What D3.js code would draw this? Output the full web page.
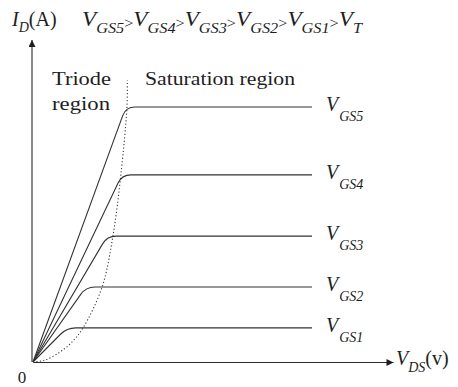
<!DOCTYPE html>
<html>
<head>
<meta charset="utf-8">
<script src="https://cdn.jsdelivr.net/npm/d3@7"></script>
<style>
  html, body { margin: 0; padding: 0; background: #fff; }
  svg { display: block; }
  text { font-family: "Liberation Serif", "Times New Roman", serif; fill: #1e1e1e; }
  .it { font-style: italic; }
</style>
</head>
<body>
<svg id="chart" width="458" height="387"></svg>
<script>
// Output characteristics of an n-channel MOSFET (arbitrary units)
const curveNames = ["GS5", "GS4", "GS3", "GS2", "GS1"];
const satCurrent = [7.92, 5.81, 3.91, 2.33, 1.06];   // I_D in saturation
const kneeVds    = [2.58, 2.47, 2.06, 1.47, 0.94];   // V_DS where triode meets saturation
const vdsEnd = 7.75;

// Triode / saturation boundary (V_DS, I_D)
const boundaryVds = [0, 0.33, 0.75, 1.08, 1.39, 1.92, 2.22, 2.44, 2.61, 2.62];
const boundaryId  = [0, 0.06, 0.31, 0.62, 1.06, 2.33, 3.91, 5.81, 7.92, 8.75];

const svg = d3.select("#chart");
const x = d3.scaleLinear().domain([0, 10]).range([33, 393]);
const y = d3.scaleLinear().domain([0, 10]).range([362, 40]);

const defs = svg.append("defs");
defs.append("marker")
  .attr("id", "arrow")
  .attr("viewBox", "0 0 10 10")
  .attr("refX", 10).attr("refY", 5)
  .attr("markerWidth", 9).attr("markerHeight", 7)
  .attr("markerUnits", "userSpaceOnUse")
  .attr("orient", "auto")
  .append("path").attr("d", "M0,0 L10,5 L0,10 Z").attr("fill", "#1e1e1e");

// axes: plain lines with arrowheads, no ticks
const xAxis = svg.append("g").attr("transform", `translate(0,${y(0)})`)
  .call(d3.axisBottom(x).tickValues([]).tickSizeOuter(0));
const yAxis = svg.append("g").attr("transform", `translate(${x(0) - 1},0)`)
  .call(d3.axisLeft(y).tickValues([]).tickSizeOuter(0));
[xAxis, yAxis].forEach(g => g.select(".domain")
  .attr("stroke", "#2a2a2a").attr("stroke-width", 1.1)
  .attr("marker-end", "url(#arrow)"));
// draw the vertical axis bottom-to-top so the arrow sits at the top
yAxis.select(".domain").attr("d", `M0,${y(0)}V${y(10)}`);

// triode/saturation boundary
const boundary = d3.line()
  .x(d => x(d[0])).y(d => y(d[1]))
  .curve(d3.curveCatmullRom.alpha(0.5));
svg.append("path")
  .datum(d3.zip(boundaryVds, boundaryId))
  .attr("d", boundary)
  .attr("fill", "none").attr("stroke", "#3a3a3a")
  .attr("stroke-width", 1.1).attr("stroke-dasharray", "1.2,2.2");

// characteristic curves: linear rise, rounded knee, flat saturation
const r1 = 9, r2 = 9;
satCurrent.forEach((lvl, i) => {
  const ox = x(0), oy = y(0);
  const cx = x(kneeVds[i]), cy = y(lvl);
  const ex = x(vdsEnd);
  const len = Math.hypot(cx - ox, cy - oy);
  const ax = cx - r1 * (cx - ox) / len, ay = cy - r1 * (cy - oy) / len;
  const p = d3.path();
  p.moveTo(ox, oy);
  p.lineTo(ax, ay);
  p.quadraticCurveTo(cx, cy, cx + r2, cy);
  p.lineTo(ex, cy);
  svg.append("path").attr("d", p.toString())
    .attr("fill", "none").attr("stroke", "#333").attr("stroke-width", 1.1);

  const t = svg.append("text").attr("x", x(vdsEnd) + 14).attr("y", cy + 4);
  t.append("tspan").attr("class", "it").attr("font-size", 20).text("V");
  t.append("tspan").attr("class", "it").attr("font-size", 14).attr("dy", 10).attr("dx", 1)
    .text(curveNames[i]);
});

// region labels
svg.append("text").attr("x", 52).attr("y", 85).attr("font-size", 19)
  .attr("textLength", 59).attr("lengthAdjust", "spacingAndGlyphs").text("Triode");
svg.append("text").attr("x", 52).attr("y", 110).attr("font-size", 19)
  .attr("textLength", 58).attr("lengthAdjust", "spacingAndGlyphs").text("region");
svg.append("text").attr("x", 145).attr("y", 85).attr("font-size", 19)
  .attr("textLength", 150).attr("lengthAdjust", "spacingAndGlyphs").text("Saturation region");

// origin label
svg.append("text").attr("x", 22).attr("y", 383).attr("font-size", 17)
  .attr("text-anchor", "middle").text("0");

// x-axis title
const xt = svg.append("text").attr("x", 396).attr("y", 365);
xt.append("tspan").attr("class", "it").attr("font-size", 20).text("V");
xt.append("tspan").attr("class", "it").attr("font-size", 14).attr("dy", 7).text("DS");
xt.append("tspan").attr("font-size", 20).attr("dy", -7).text("(v)");

// y-axis title
const yt = svg.append("text").attr("x", 12).attr("y", 26);
yt.append("tspan").attr("class", "it").attr("font-size", 20).text("I");
yt.append("tspan").attr("class", "it").attr("font-size", 14).attr("dy", 6).text("D");
yt.append("tspan").attr("font-size", 20).attr("dy", -6).text("(A)");

// ordering of gate voltages
const order = ["GS5", "GS4", "GS3", "GS2", "GS1", "T"];
const ot = svg.append("text").attr("x", 82).attr("y", 26)
  .attr("textLength", 280).attr("lengthAdjust", "spacingAndGlyphs");
order.forEach((s, i) => {
  ot.append("tspan").attr("class", "it").attr("font-size", 20).attr("dy", i === 0 ? 0 : -2).text("V");
  ot.append("tspan").attr("class", "it").attr("font-size", 14).attr("dy", 7).text(s);
  if (i < order.length - 1)
    ot.append("tspan").attr("font-size", 14).attr("dy", -5).text(">");
});
</script>
</body>
</html>
